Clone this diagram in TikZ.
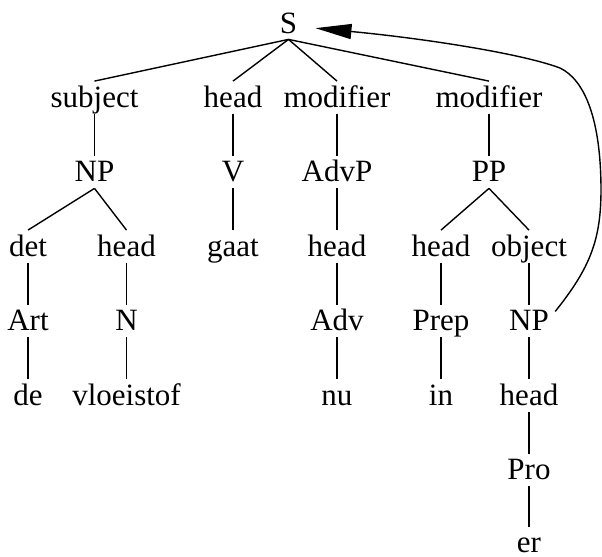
\documentclass[tikz,border=0pt]{standalone}
\usepackage{fontspec}
\setmainfont{Liberation Serif}
\usetikzlibrary{arrows.meta}

\begin{document}
\begin{tikzpicture}[x=0.5pt,y=-0.5pt,
		lbl/.style={anchor=base, inner sep=3pt, text height=10pt, text depth=0pt, font=\fontsize{15.5}{18}\selectfont},
		edge/.style={line width=0.7pt}]
		\useasboundingbox (0,0) rectangle (602,557);

		% rows of the tree
		\node[lbl] (s) at (288.5,33) {S};

		\node[lbl] (subj) at (94.5,107.5) {subject};
		\node[lbl] (vhead) at (233,107.5) {head};
		\node[lbl] (mod1) at (337,107.5) {modifier};
		\node[lbl] (mod2) at (489,107.5) {modifier};

		\node[lbl] (np1) at (94.5,182) {NP};
		\node[lbl] (v) at (233,182) {V};
		\node[lbl] (advp) at (337,182) {AdvP};
		\node[lbl] (pp) at (489,182) {PP};

		\node[lbl] (det) at (28,256.5) {det};
		\node[lbl] (nhead) at (126.5,256.5) {head};
		\node[lbl] (gaat) at (233,256.5) {gaat};
		\node[lbl] (advhead) at (337,256.5) {head};
		\node[lbl] (phead) at (441,256.5) {head};
		\node[lbl] (obj) at (529,256.5) {object};

		\node[lbl] (art) at (28,331) {Art};
		\node[lbl] (n) at (126.5,331) {N};
		\node[lbl] (adv) at (337,331) {Adv};
		\node[lbl] (prep) at (441,331) {Prep};
		\node[lbl] (np2) at (529,331) {NP};

		\node[lbl] (de) at (28,405.5) {de};
		\node[lbl] (vloei) at (126.5,405.5) {vloeistof};
		\node[lbl] (nu) at (337,405.5) {nu};
		\node[lbl] (inw) at (441,405.5) {in};
		\node[lbl] (prohead) at (529,405.5) {head};

		\node[lbl] (pro) at (529,480) {Pro};
		\node[lbl] (er) at (529,553) {er};

		% branches
		\draw[edge] (s.south) -- (subj.north);
		\draw[edge] (s.south) -- (vhead.north);
		\draw[edge] (s.south) -- (mod1.north);
		\draw[edge] (s.south) -- (mod2.north);

		\draw[edge] (subj.south) -- (np1.north);
		\draw[edge] (vhead.south) -- (v.north);
		\draw[edge] (mod1.south) -- (advp.north);
		\draw[edge] (mod2.south) -- (pp.north);

		\draw[edge] (np1.south) -- (det.north);
		\draw[edge] (np1.south) -- (nhead.north);
		\draw[edge] (v.south) -- (gaat.north);
		\draw[edge] (advp.south) -- (advhead.north);
		\draw[edge] (pp.south) -- (phead.north);
		\draw[edge] (pp.south) -- (obj.north);

		\draw[edge] (det.south) -- (art.north);
		\draw[edge] (nhead.south) -- (n.north);
		\draw[edge] (advhead.south) -- (adv.north);
		\draw[edge] (phead.south) -- (prep.north);
		\draw[edge] (obj.south) -- (np2.north);

		\draw[edge] (art.south) -- (de.north);
		\draw[edge] (n.south) -- (vloei.north);
		\draw[edge] (adv.south) -- (nu.north);
		\draw[edge] (prep.south) -- (inw.north);
		\draw[edge] (np2.south) -- (prohead.north);

		\draw[edge] (prohead.south) -- (pro.north);
		\draw[edge] (pro.south) -- (er.north);

		% link from the object NP back to S
		\draw[edge, -{Triangle[length=18pt,width=7.5pt]}, shorten >=6pt] (np2.20)
			.. controls (590,268) and (601,240) .. (601,190)
			.. controls (601,120) and (585,80) .. (560,68)
			.. controls (520,53) and (420,38) .. (s.-15);
	\end{tikzpicture}
\end{document}
